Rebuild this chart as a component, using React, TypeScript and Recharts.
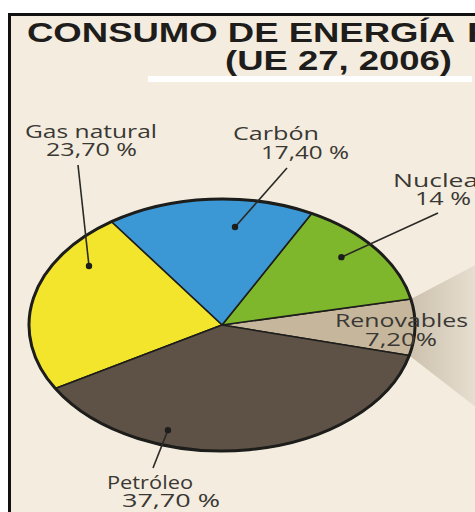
import React from "react";
import { PieChart, Pie, Cell } from "recharts";

// ---- data ----
const SOURCES = ["Renovables", "Nuclear", "Carbón", "Gas natural", "Petróleo"];
const SHARES = [7.2, 14, 17.4, 23.7, 37.7];
const SHARE_LABELS = ["7,20%", "14 %", "17,40 %", "23,70 %", "37,70 %"];
const COLORS = ["#c6b79c", "#7eb62c", "#3b98d5", "#f2e52b", "#5e5246"];

const TITLE_LINE1 = "CONSUMO DE ENERGÍA";
const TITLE_CUT = "PRIMARIA";
const TITLE_LINE2 = "(UE 27, 2006)";

const data = SOURCES.map((name, i) => ({ name, value: SHARES[i], label: SHARE_LABELS[i] }));

// ---- layout (annotation placement, not data) ----
const TILT = 0.653;
const RAD = Math.PI / 180;
type Lay = {
  nx: number; ny: number; nw: number;
  px: number; py: number; pw: number;
  lx?: number; ly?: number; dOff?: number; dR?: number;
};
const LAYOUT: Lay[] = [
  { nx: 335, ny: 327, nw: 133, px: 365, py: 346, pw: 72 },
  { nx: 393, ny: 187, nw: 96, px: 415, py: 205, pw: 56, lx: 438, ly: 213, dOff: 3.9, dR: 0.82 },
  { nx: 233, ny: 140, nw: 86, px: 261, py: 159, pw: 88, lx: 287, ly: 168, dOff: -8.6, dR: 0.78 },
  { nx: 25, ny: 138, nw: 132, px: 46, py: 156, pw: 91, lx: 78, ly: 165, dOff: -21.8, dR: 0.833 },
  { nx: 107, ny: 489, nw: 86, px: 122, py: 507, pw: 98, lx: 153, ly: 468, dOff: -26.7, dR: 0.88 },
];

const TEXT_FONT = "'Open Sans', 'Noto Sans', sans-serif";

const ellPt = (cx: number, cy: number, r: number, a: number) => [
  cx + r * Math.cos(a * RAD),
  cy - r * TILT * Math.sin(a * RAD),
];

const EllipseSector = (props: any) => {
  const { cx, cy, outerRadius, startAngle, endAngle, fill, index } = props;
  const rx = outerRadius;
  const ry = outerRadius * TILT;
  const [x1, y1] = ellPt(cx, cy, rx, startAngle);
  const [x2, y2] = ellPt(cx, cy, rx, endAngle);
  const large = Math.abs(endAngle - startAngle) > 180 ? 1 : 0;
  const isFirst = index === 0 || props.name === SOURCES[0];
  return (
    <g>
      {isFirst && (
        <g>
          <defs>
            <linearGradient id="beamGrad" x1="0" y1="0" x2="1" y2="0">
              <stop offset="0" stopColor="#cdc1ad" />
              <stop offset="1" stopColor="#ece5d8" />
            </linearGradient>
          </defs>
          <polygon
            points={`${x1},${y1} ${x2},${y2} ${x2 + 80},${y2 - 42} ${x1 + 80},${y1 + 62}`}
            fill="url(#beamGrad)"
          />
        </g>
      )}
      <path
        d={`M${cx},${cy} L${x1},${y1} A${rx},${ry} 0 ${large} 0 ${x2},${y2} Z`}
        fill={fill}
        stroke="#1d1d1b"
        strokeWidth={1.6}
        strokeLinejoin="round"
      />
      <path
        d={`M${x1},${y1} A${rx},${ry} 0 ${large} 0 ${x2},${y2}`}
        fill="none"
        stroke="#1d1d1b"
        strokeWidth={3}
      />
    </g>
  );
};

const renderLabel = (props: any) => {
  const { cx, cy, midAngle, outerRadius, index } = props;
  const lay = LAYOUT[index];
  const item = data[index];
  let dot: React.ReactNode = null;
  if (lay.lx !== undefined && lay.dOff !== undefined && lay.dR !== undefined) {
    const [dx, dy] = ellPt(cx, cy, outerRadius * lay.dR, midAngle + lay.dOff);
    dot = (
      <g>
        <line x1={dx} y1={dy} x2={lay.lx} y2={lay.ly} stroke="#2a2926" strokeWidth={1.6} />
        <circle cx={dx} cy={dy} r={3.2} fill="#1d1d1b" />
      </g>
    );
  }
  const textProps = {
    fontFamily: TEXT_FONT,
    fontSize: 18,
    fill: "#3a3834",
    lengthAdjust: "spacingAndGlyphs" as const,
  };
  return (
    <g key={`lab-${index}`}>
      {dot}
      <text x={lay.nx} y={lay.ny} textLength={lay.nw} {...textProps}>
        {item.name}
      </text>
      <text x={lay.px} y={lay.py} textLength={lay.pw} {...textProps}>
        {item.label}
      </text>
    </g>
  );
};

export default function App() {
  return (
    <div style={{ position: "absolute", left: 0, top: 0, width: 475, height: 512, background: "#ffffff", overflow: "hidden" }}>
      <div
        style={{
          position: "absolute",
          left: 8,
          top: 13,
          width: 480,
          height: 520,
          borderLeft: "3px solid #111",
          borderTop: "3px solid #111",
          background: "#f4eddf",
        }}
      />
      <svg width={475} height={512} style={{ position: "absolute", left: 0, top: 0 }}>
        <rect x={148} y={76} width={324} height={6} fill="#ffffff" />
        <text
          x={27}
          y={42}
          textLength={428}
          lengthAdjust="spacingAndGlyphs"
          fontFamily="'Liberation Sans', Arial, sans-serif"
          fontWeight="bold"
          fontSize={27}
          fill="#1e1d1b"
        >
          {TITLE_LINE1}
        </text>
        <text
          x={467}
          y={42}
          textLength={190}
          lengthAdjust="spacingAndGlyphs"
          fontFamily="'Liberation Sans', Arial, sans-serif"
          fontWeight="bold"
          fontSize={27}
          fill="#1e1d1b"
        >
          {TITLE_CUT}
        </text>
        <text
          x={225}
          y={70}
          textLength={227}
          lengthAdjust="spacingAndGlyphs"
          fontFamily="'Liberation Sans', Arial, sans-serif"
          fontWeight="bold"
          fontSize={27}
          fill="#1e1d1b"
        >
          {TITLE_LINE2}
        </text>
      </svg>
      <div style={{ position: "absolute", left: 0, top: 0 }}>
        <PieChart width={475} height={512} margin={{ top: 0, right: 0, bottom: 0, left: 0 }}>
          <Pie
            data={data}
            dataKey="value"
            nameKey="name"
            cx={222}
            cy={325}
            outerRadius={193}
            startAngle={-14}
            endAngle={346}
            isAnimationActive={false}
            shape={EllipseSector}
            label={renderLabel}
            labelLine={false}
            stroke="none"
          >
            {data.map((d, i) => (
              <Cell key={d.name} fill={COLORS[i]} />
            ))}
          </Pie>
        </PieChart>
      </div>
    </div>
  );
}
